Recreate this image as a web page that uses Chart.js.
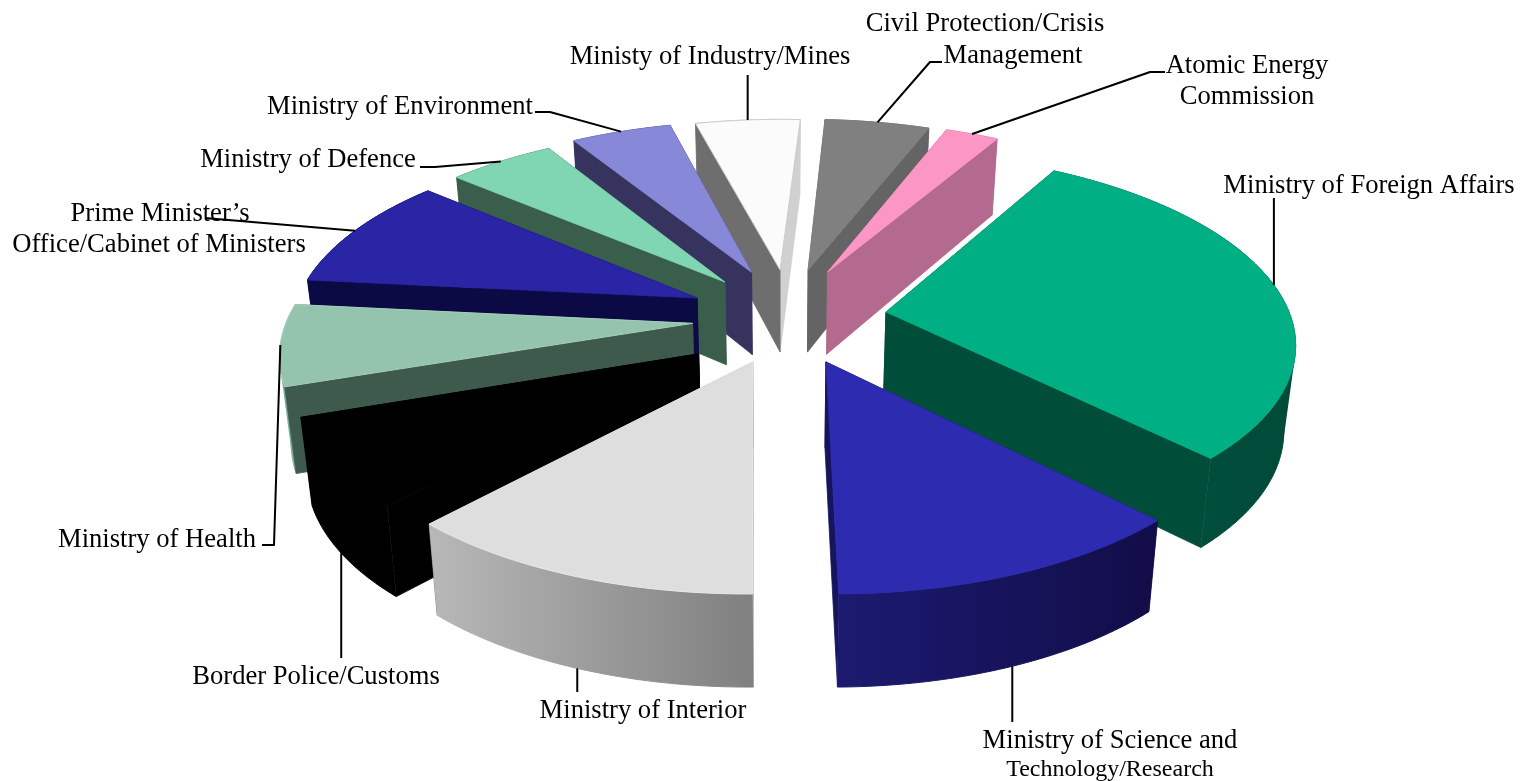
<!DOCTYPE html>
<html>
<head>
<meta charset="utf-8">
<style>html,body{margin:0;padding:0;background:#fff}canvas{display:block}</style>
<script src="https://cdn.jsdelivr.net/npm/chart.js@4"></script>
</head>
<body>
<canvas id="c" width="1520" height="781"></canvas>
<script>
const categories = ["Ministry of Foreign Affairs","Ministry of Science and Technology/Research","Ministry of Interior","Border Police/Customs","Ministry of Health","Prime Minister’s Office/Cabinet of Ministers","Ministry of Defence","Ministry of Environment","Ministy of Industry/Mines","Civil Protection/Crisis Management","Atomic Energy Commission"];
const shares = [29.4,12.1,12.1,7.8,6.9,9.7,5.0,4.7,4.9,4.9,2.5];
const explodeU = [.258,.105,-.07,-.2,-.22,-.213,-.145,-.078,-.005,.067,.117];
const explodeV = [-.016,.246,.246,.205,.045,-.0936,-.184,-.24,-.254,-.254,-.242];
const radiusScale = [1,1,1,.955,1,1,1,1,1,1,1];
const topColors = ["#00b084","#2d2bb0","#dedede","#000000","#94c4ae","#2a25a5","#80d6b2","#8888d8","#fbfbfb","#808080","#fc96c4"];
const startWall = ["#004d3a","#17145e","#b8b8b8","#000000","#3e5a4c","#0c0a45","#3a5e4c","#36345f","#6e6e6e","#646464","#b36a8e"];
const endWall   = ["#004d3a","#17145e","#808080","#000000","#3e5a4c","#0c0a45","#3a5e4c","#36345f","#d0d0d0","#646464","#b36a8e"];
const rimLeft   = ["#005440","#1b1a70","#b8b8b8","#000000","#7fb09c","#0c0a45","#3a5e4c","#36345f","#d0d0d0","#646464","#b36a8e"];
const rimRight  = ["#004a38","#120d48","#808080","#000000","#7fb09c","#0c0a45","#3a5e4c","#36345f","#d0d0d0","#646464","#b36a8e"];
const topEdge   = [null,null,"#e8e8e8",null,"#a8d0bc",null,null,null,"#cccccc",null,null];

// label layout: text rows, then the leader's anchor and its bends
const labelRows = [
 [["Ministry of Foreign Affairs",1369,186,26.6]],
 [["Ministry of Science and",1110,741,26.6],["Technology/Research",1110,770,24]],
 [["Ministry of Interior",643,711,26.6]],
 [["Border Police/Customs",316,677,26.6]],
 [["Ministry of Health",157,540,26.6]],
 [["Prime Minister’s",160,214,26.6],["Office/Cabinet of Ministers",159,245,26.6]],
 [["Ministry of Defence",308,160,26.6]],
 [["Ministry of Environment",400,107,26.6]],
 [["Ministy of Industry/Mines",710,57,26.6]],
 [["Civil Protection/Crisis",985,24,26.6],["Management",1013,56,26.6]],
 [["Atomic Energy",1247,66,26.6],["Commission",1247,97,26.6]]
];
const leaders = [
 {f:.485,bottom:false,via:[[null,198]]},
 {f:.5,bottom:true,via:[[null,722]]},
 {f:.5,bottom:true,via:[[null,692]]},
 {f:.5,bottom:true,via:[[null,658]]},
 {f:.5,bottom:false,via:[[274,545],[262,545]]},
 {f:.5,bottom:false,via:[[205,218]]},
 {f:.5,bottom:false,via:[[435,167],[420,167]]},
 {f:.5,bottom:false,via:[[550,112],[535,112]]},
 {f:.5,bottom:false,via:[[null,75]]},
 {f:.5,bottom:false,via:[[930,62],[942,62]]},
 {f:.5,bottom:false,via:[[1150,72],[1165,72]]}
];
const view = {xc:782,yc:315,S:404,T:184,a:.143,shrink:.977,depth:84,depthV:7.3};

function project(u,v){const p=1/(1-view.a*v);return {x:view.xc+view.S*u*p,y:view.yc+view.T*v*p,v};}
function below(q){return {x:view.xc+(q.x-view.xc)*view.shrink,y:q.y+view.depth+view.depthV*q.v,v:q.v};}
function trace(ctx,pts){pts.forEach((q,i)=>i?ctx.lineTo(q.x,q.y):ctx.moveTo(q.x,q.y));ctx.closePath();}
function paint(ctx,pts,fill,w){ctx.beginPath();trace(ctx,pts);ctx.fillStyle=fill;ctx.fill();ctx.strokeStyle=fill;ctx.lineWidth=w;ctx.lineJoin='round';ctx.stroke();}
function area(p){let s=0;p.forEach((q,i)=>{const n=p[(i+1)%p.length];s+=q.x*n.y-n.x*q.y;});return s;}

const pie3d = {
 id:'pie3d',
 beforeDatasetsDraw(chart){
  const ctx=chart.ctx, arcs=chart.getDatasetMeta(0).data;
  const slices=arcs.map((arc,i)=>{
   const a0=arc.startAngle,a1=arc.endAngle,mid=(a0+a1)/2;
   const ou=explodeU[i],ov=explodeV[i],r=radiusScale[i];
   const rim=[];
   for(let k=0;k<=48;k++){const t=a0+(a1-a0)*k/48;rim.push(project(ou+r*Math.cos(t),ov+r*Math.sin(t)));}
   return {i,a0,a1,mid,ou,ov,r,rim,apex:project(ou,ov)};
  });
  slices.slice().sort((p,q)=>Math.sin(p.mid)-Math.sin(q.mid)).forEach(s=>{
   const c=s.rim, first=c[0], last=c[c.length-1], apex=s.apex;
   const xs=c.map(q=>q.x), minX=Math.min(...xs), maxX=Math.max(...xs);
   const g=ctx.createLinearGradient(minX,0,maxX,0);
   g.addColorStop(0,rimLeft[s.i]);g.addColorStop(1,rimRight[s.i]);
   const drawRim=()=>{
    ctx.beginPath();
    for(let k=0;k<c.length-1;k++){
     let quad=[c[k],c[k+1],below(c[k+1]),below(c[k])];
     if(area(quad)<0)quad=quad.reverse();
     trace(ctx,quad);
    }
    ctx.fillStyle=g;ctx.fill();
    ctx.strokeStyle=g;ctx.lineWidth=1;ctx.beginPath();
    c.forEach((q,k)=>k?ctx.lineTo(q.x,q.y):ctx.moveTo(q.x,q.y));
    c.map(below).forEach((q,k)=>k?ctx.lineTo(q.x,q.y):ctx.moveTo(q.x,q.y));
    ctx.stroke();
   };
   const faces=[
    {draw:()=>paint(ctx,[apex,first,below(first),below(apex)],startWall[s.i],.8),d:(apex.v+first.v)/2},
    {draw:()=>paint(ctx,[apex,last,below(last),below(apex)],endWall[s.i],.8),d:(apex.v+last.v)/2},
    {draw:drawRim,d:c[24].v}
   ].sort((p,q)=>p.d-q.d);
   faces.forEach(f=>f.draw());
   ctx.beginPath();trace(ctx,[apex,...c]);ctx.fillStyle=topColors[s.i];ctx.fill();
   ctx.strokeStyle=topEdge[s.i]||topColors[s.i];ctx.lineWidth=topEdge[s.i]?1:.8;ctx.stroke();
  });
  // leaders and labels
  ctx.strokeStyle='#000';ctx.lineWidth=2;ctx.fillStyle='#000';
  ctx.textAlign='center';ctx.textBaseline='middle';
  slices.forEach(s=>{
   const L=leaders[s.i], t=s.a0+(s.a1-s.a0)*L.f;
   let q=project(s.ou+s.r*Math.cos(t),s.ov+s.r*Math.sin(t));
   if(L.bottom)q=below(q);
   ctx.beginPath();ctx.moveTo(q.x,q.y);
   L.via.forEach(w=>ctx.lineTo(w[0]===null?q.x:w[0],w[1]));
   ctx.stroke();
   labelRows[s.i].forEach(r=>{ctx.font=r[3]+'px "Liberation Serif"';ctx.fillText(r[0],r[1],r[2]);});
  });
  return false;
 }
};

new Chart(document.getElementById('c'),{
 type:'pie',
 data:{labels:categories,datasets:[{data:shares,backgroundColor:topColors,borderWidth:0}]},
 options:{responsive:false,animation:false,rotation:30,
  plugins:{legend:{display:false},tooltip:{enabled:false}}},
 plugins:[pie3d]
});
</script>
</body>
</html>
